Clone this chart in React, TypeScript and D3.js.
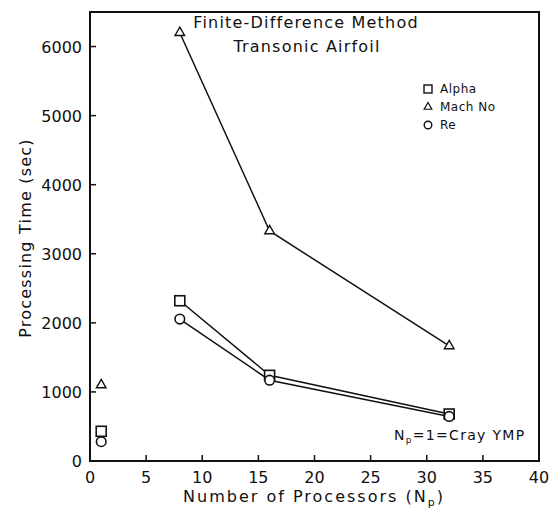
import React from "react";
import * as d3 from "d3";

const processors = [1, 8, 16, 32];
const alpha = [430, 2320, 1240, 680];
const mach = [1100, 6200, 3330, 1665];
const re = [280, 2055, 1170, 645];
const xTicks = [0, 5, 10, 15, 20, 25, 30, 35, 40];
const yTicks = [0, 1000, 2000, 3000, 4000, 5000, 6000];

const W = 555, H = 514;
const x = d3.scaleLinear().domain([0, 40]).range([90, 539]);
const y = d3.scaleLinear().domain([0, 6500]).range([461, 12]);
const font = "'DejaVu Sans', Lato, sans-serif";

function Series({ vals, marker }: { vals: number[]; marker: string }) {
  const pts = processors.map((p, i) => [x(p), y(vals[i])] as [number, number]);
  const line = d3.line()(pts.slice(1));
  return (
    <g>
      <path d={line || ""} fill="none" stroke="#111" strokeWidth={1.5} />
      {pts.map(([px, py], i) => {
        if (marker === "square")
          return <rect key={i} x={px - 5} y={py - 5} width={10} height={10} fill="white" stroke="#111" strokeWidth={1.6} />;
        if (marker === "circle")
          return <circle key={i} cx={px} cy={py} r={4.8} fill="white" stroke="#111" strokeWidth={1.6} />;
        const sym = d3.symbol().type(d3.symbolTriangle).size(40)();
        return <path key={i} d={sym || ""} transform={`translate(${px},${py})`} fill="white" stroke="#111" strokeWidth={1.4} />;
      })}
    </g>
  );
}

export default function App() {
  const tri = d3.symbol().type(d3.symbolTriangle).size(26)();
  return (
    <svg width={W} height={H} style={{ position: "absolute", left: 0, top: 0, background: "white" }} fontFamily={font}>
      <rect x={x(0)} y={y(6500)} width={x(40) - x(0)} height={y(0) - y(6500)} fill="none" stroke="#111" strokeWidth={2} />
      {xTicks.slice(1, -1).map((t) => (
        <line key={t} x1={x(t)} x2={x(t)} y1={y(0)} y2={y(0) - 6} stroke="#111" strokeWidth={1.5} />
      ))}
      {yTicks.slice(1).map((t) => (
        <line key={t} x1={x(0)} x2={x(0) + 6} y1={y(t)} y2={y(t)} stroke="#111" strokeWidth={1.5} />
      ))}
      {xTicks.map((t) => (
        <text key={t} x={x(t)} y={483} textAnchor="middle" fontSize={16} fill="#111">{t}</text>
      ))}
      {yTicks.map((t) => (
        <text key={t} x={82} y={y(t) + 6} textAnchor="end" fontSize={16} fill="#111">{t}</text>
      ))}
      <text x={314} y={502} textAnchor="middle" fontSize={16} letterSpacing={2} fill="#111">
        Number of Processors (N<tspan fontSize={11} dy={4}>p</tspan><tspan dy={-4}>)</tspan>
      </text>
      <text transform="translate(31,238) rotate(-90)" textAnchor="middle" fontSize={16} letterSpacing={1.2} fill="#111">Processing Time (sec)</text>
      <text x={306} y={28} textAnchor="middle" fontSize={16} letterSpacing={1.2} fill="#111">Finite-Difference Method</text>
      <text x={307} y={52} textAnchor="middle" fontSize={16} letterSpacing={1.2} fill="#111">Transonic Airfoil</text>

      <Series vals={mach} marker="triangle" />
      <Series vals={alpha} marker="square" />
      <Series vals={re} marker="circle" />

      <rect x={424} y={85} width={8} height={8} fill="white" stroke="#111" strokeWidth={1.4} />
      <text x={440} y={93} fontSize={12} letterSpacing={0.5} fill="#111">Alpha</text>
      <path d={tri || ""} transform="translate(428,107)" fill="white" stroke="#111" strokeWidth={1.2} />
      <text x={440} y={111} fontSize={12} letterSpacing={0.5} fill="#111">Mach No</text>
      <circle cx={428} cy={125} r={3.8} fill="white" stroke="#111" strokeWidth={1.4} />
      <text x={440} y={129} fontSize={12} letterSpacing={0.5} fill="#111">Re</text>

      <text x={394} y={440} fontSize={14} letterSpacing={1.3} fill="#111">
        N<tspan fontSize={9} dy={3}>p</tspan><tspan dy={-3}>=1=Cray YMP</tspan>
      </text>
    </svg>
  );
}
